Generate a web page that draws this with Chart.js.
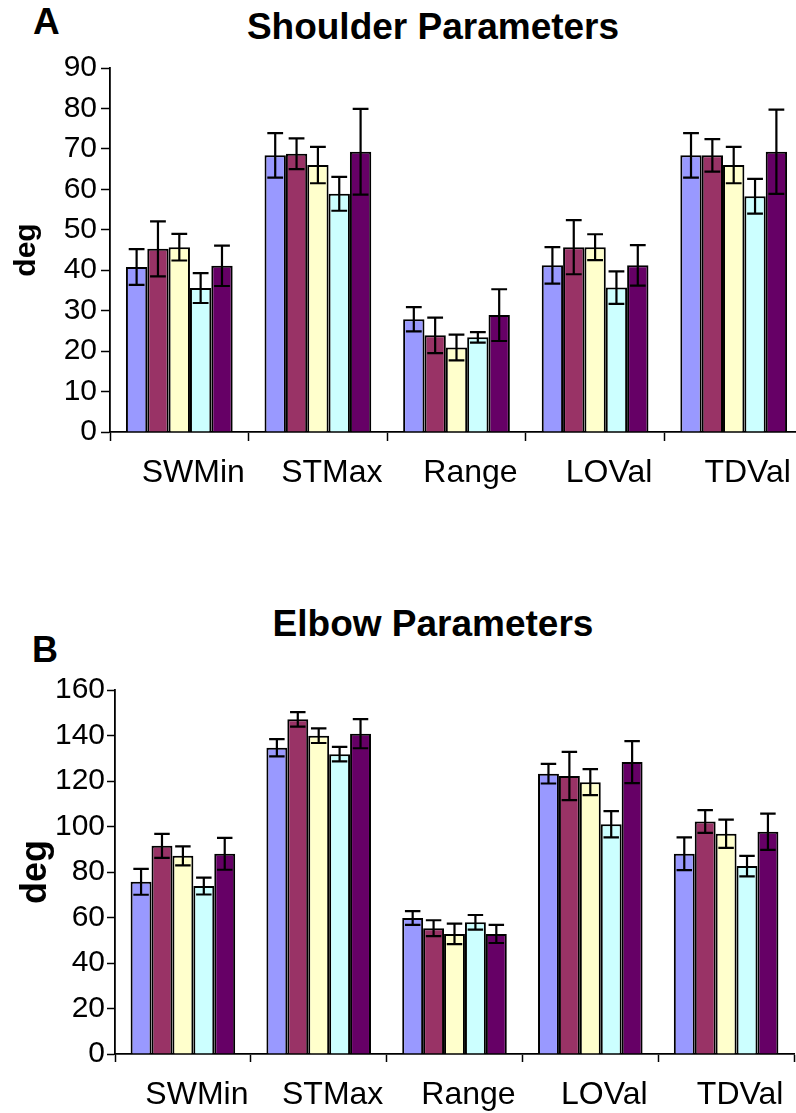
<!DOCTYPE html>
<html>
<head>
<meta charset="utf-8">
<script src="https://cdn.jsdelivr.net/npm/chart.js@4.4.0/dist/chart.umd.min.js"></script>
<style>
  body { margin: 0; width: 796px; height: 1113px; overflow: hidden; background: #fff; position: relative;
         font-family: "Liberation Sans", Arial, sans-serif; }
  .lbl { position: absolute; font-weight: bold; color: #000; white-space: nowrap; line-height: 1; }
  .title { font-size: 37px; transform: translateX(-50%); }
  #wrapA { position: absolute; left: 0; top: 0; }
  #wrapB { position: absolute; left: 0; top: 560px; }
</style>
</head>
<body>
<div class="lbl" style="left:33px;top:3px;font-size:37px">A</div>
<div class="lbl title" style="left:433px;top:8px">Shoulder Parameters</div>
<div class="lbl" style="left:32px;top:632px;font-size:36px">B</div>
<div class="lbl title" style="left:433px;top:605px">Elbow Parameters</div>

<div id="wrapA"><canvas id="shoulderChart" width="803" height="502"></canvas></div>
<div id="wrapB"><canvas id="elbowChart" width="796" height="553"></canvas></div>

<script>
const categories = ["SWMin", "STMax", "Range", "LOVal", "TDVal"];
const seriesNames = ["Group 1", "Group 2", "Group 3", "Group 4", "Group 5"];
const seriesColors = ["#9999FF", "#993366", "#FFFFCC", "#CCFFFF", "#660066"];

// Shoulder means and SDs, one row per group
const shoulderMeans = [
  [40.8, 68.4, 27.9, 41.2, 68.4],
  [45.3, 68.8, 23.9, 45.7, 68.4],
  [45.7, 66.0, 20.9, 45.7, 66.0],
  [35.6, 58.9, 23.4, 35.7, 58.3],
  [41.1, 69.3, 28.9, 41.2, 69.3]
];
const shoulderErrors = [
  [4.4, 5.5, 3.0, 4.5, 5.5],
  [6.8, 3.8, 4.4, 6.7, 4.0],
  [3.3, 4.5, 3.2, 3.2, 4.5],
  [3.7, 4.2, 1.3, 4.0, 4.3],
  [5.0, 10.6, 6.4, 5.0, 10.4]
];

// Elbow means and SDs
const elbowMeans = [
  [75.7, 134.6, 59.8, 123.2, 88.0],
  [91.5, 147.1, 55.3, 122.2, 102.2],
  [87.1, 139.9, 52.8, 119.5, 96.8],
  [73.8, 131.8, 57.9, 101.0, 82.6],
  [88.0, 140.8, 52.8, 128.3, 97.7]
];
const elbowErrors = [
  [5.7, 3.8, 3.0, 4.3, 7.2],
  [5.3, 3.2, 3.5, 10.6, 5.0],
  [4.2, 3.2, 4.5, 5.7, 6.2],
  [3.7, 3.2, 3.2, 5.8, 4.5],
  [7.0, 6.4, 4.0, 9.2, 8.0]
];

Chart.defaults.font.family = '"Liberation Sans", Arial, sans-serif';
Chart.defaults.color = "#000";

// draws mean +/- sd whiskers on top of every bar
const errorBars = {
  id: "errorBars",
  afterDatasetsDraw(chart) {
    const ctx = chart.ctx;
    const y = chart.scales.y;
    chart.data.datasets.forEach((ds, i) => {
      chart.getDatasetMeta(i).data.forEach((bar, j) => {
        const v = ds.data[j], e = ds.errors[j];
        const top = y.getPixelForValue(v + e);
        const bot = y.getPixelForValue(v - e);
        const half = bar.width * 0.37;
        ctx.save();
        ctx.strokeStyle = "#000";
        ctx.lineWidth = 2.2;
        ctx.beginPath();
        ctx.moveTo(bar.x, top); ctx.lineTo(bar.x, bot);
        ctx.moveTo(bar.x - half, top); ctx.lineTo(bar.x + half, top);
        ctx.moveTo(bar.x - half, bot); ctx.lineTo(bar.x + half, bot);
        ctx.stroke();
        ctx.restore();
      });
    });
  }
};

function makeChart(id, means, errors, cfg) {
  const datasets = means.map((row, i) => ({
    label: seriesNames[i],
    data: row,
    errors: errors[i],
    backgroundColor: seriesColors[i],
    borderColor: "#000",
    borderWidth: 2,
    categoryPercentage: 0.77,
    barPercentage: 1.0
  }));

  return new Chart(document.getElementById(id), {
    type: "bar",
    data: { labels: categories, datasets },
    plugins: [errorBars],
    options: {
      responsive: false,
      animation: false,
      devicePixelRatio: 1,
      layout: { padding: cfg.padding },
      plugins: { legend: { display: false }, tooltip: { enabled: false } },
      scales: {
        x: {
          ticks: { font: { size: 32 }, padding: cfg.xPad, labelOffset: 14 },
          grid: { drawOnChartArea: false, tickLength: cfg.tick, tickColor: "#000", tickWidth: 1.5, offset: true },
          border: { color: "#000", width: 1.8 },
          afterFit: s => { s.height = cfg.xHeight; }
        },
        y: {
          min: 0,
          max: cfg.max,
          ticks: { stepSize: cfg.step, font: { size: 30 }, padding: cfg.yPad },
          grid: { drawOnChartArea: false, tickLength: cfg.tick, tickColor: "#000", tickWidth: 1.5 },
          border: { color: "#000", width: 1.8 },
          title: { display: true, text: "deg", font: { size: cfg.titleSize, weight: "bold" }, padding: { top: cfg.titlePad, bottom: 0 } },
          afterFit: s => { s.width = cfg.yWidth; }
        }
      }
    }
  });
}

makeChart("shoulderChart", shoulderMeans, shoulderErrors, {
  max: 90, step: 10, yWidth: 110, xHeight: 70, tick: 9, xPad: 13, yPad: 4,
  titleSize: 30, titlePad: 9, padding: { top: 68, right: 0, left: 0, bottom: 0 }
});

makeChart("elbowChart", elbowMeans, elbowErrors, {
  max: 160, step: 20, yWidth: 115, xHeight: 59, tick: 8, xPad: 14, yPad: 2,
  titleSize: 36, titlePad: 14, padding: { top: 130, right: 2, left: 0, bottom: 0 }
});
</script>
</body>
</html>
